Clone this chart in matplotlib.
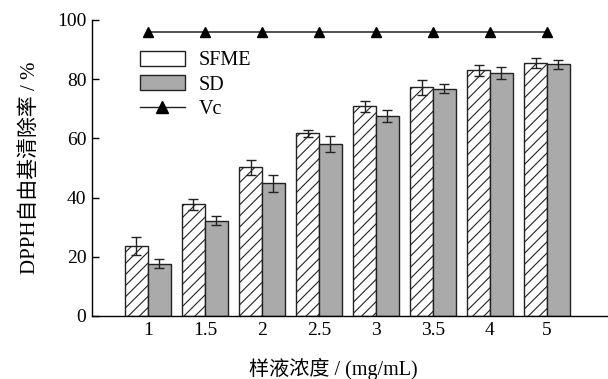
import matplotlib
matplotlib.use("Agg")
import matplotlib.pyplot as plt
import numpy as np
from matplotlib.patches import Patch
from matplotlib.lines import Line2D

categories = ["1", "1.5", "2", "2.5", "3", "3.5", "4", "5"]
sfme = [23.7, 37.7, 50.2, 61.7, 70.8, 77.3, 83.0, 85.6]
sfme_err = [3.1, 1.9, 2.4, 1.3, 1.9, 2.5, 1.9, 1.7]
sd = [17.7, 32.2, 44.8, 58.0, 67.6, 76.8, 82.0, 85.1]
sd_err = [1.5, 1.5, 2.75, 2.65, 1.9, 1.5, 2.1, 1.5]
vc = [96, 96, 96, 96, 96, 96, 96, 96]

plt.rcParams['font.family'] = ['Liberation Serif', 'Noto Sans CJK SC']
plt.rcParams['hatch.linewidth'] = 0.8

fig = plt.figure(figsize=(6.08, 3.79), dpi=100)
ax = fig.add_axes([92/608, 1-316/379, 1-92/608, (316-20)/379])

x = np.arange(len(categories))
w = 0.4
ax.bar(x - w/2, sfme, w, color='white', edgecolor='#222222', hatch='///', linewidth=1.0,
       yerr=sfme_err, error_kw=dict(ecolor='#222222', elinewidth=1.0, capsize=3.5, capthick=1.0))
ax.bar(x + w/2, sd, w, color='#aaaaaa', edgecolor='#222222', linewidth=1.0,
       yerr=sd_err, error_kw=dict(ecolor='#222222', elinewidth=1.0, capsize=3.5, capthick=1.0))
ax.plot(x, vc, color='#333333', linewidth=1.2, marker='^', markersize=7, markerfacecolor='black', markeredgecolor='black')

ax.set_ylim(0, 100)
ax.set_xlim(-0.98, 8.07)
ax.set_yticks([0, 20, 40, 60, 80, 100])
ax.set_xticks(x)
ax.set_xticklabels(categories)
ax.tick_params(axis='y', direction='in', length=5, width=1.0, labelsize=14, pad=4)
ax.tick_params(axis='x', length=0, labelsize=14, pad=4)
for s in ['top', 'right']:
    ax.spines[s].set_visible(False)
ax.spines['left'].set_linewidth(1.0)
ax.spines['bottom'].set_linewidth(1.0)

ax.set_ylabel('DPPH自由基清除率 / %', fontsize=15)
ax.yaxis.set_label_coords(-0.10, 0.5)
ax.set_xlabel('样液浓度 / (mg/mL)', fontsize=14.5)
ax.xaxis.set_label_coords((333-92)/516, -0.14)

handles = [Patch(facecolor='white', edgecolor='#222222', linewidth=1.0),
           Patch(facecolor='#aaaaaa', edgecolor='#222222', linewidth=1.0),
           Line2D([0], [0], color='#222222', linewidth=1.0, marker='^', markersize=8,
                  markerfacecolor='black', markeredgecolor='black')]
ax.legend(handles, ['SFME', 'SD', 'Vc'], loc='upper left', bbox_to_anchor=(0.074, 0.93),
          frameon=False, fontsize=14.5, handlelength=2.2, handleheight=0.75,
          handletextpad=0.7, labelspacing=0.25, borderpad=0)

fig.savefig('out.png', dpi=100)
